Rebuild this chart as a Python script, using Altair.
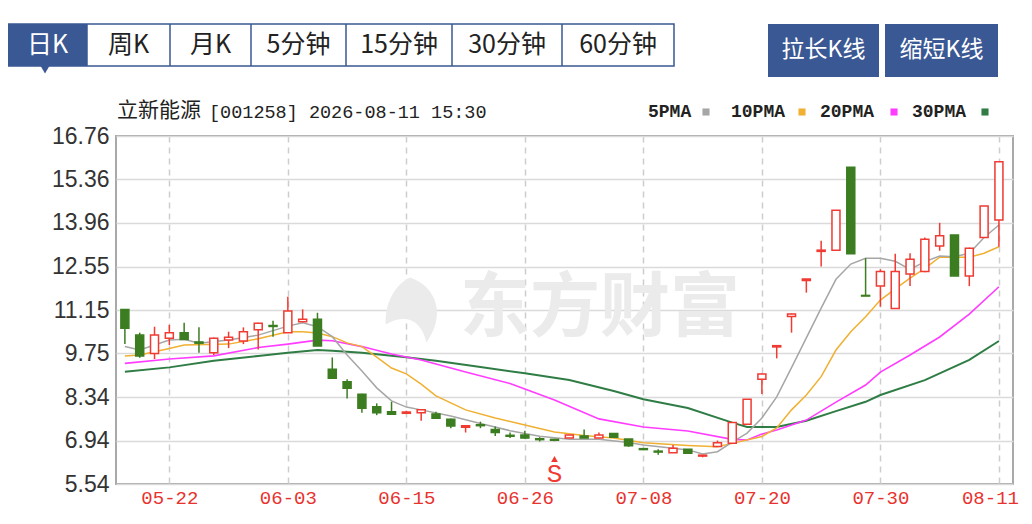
import altair as alt
import pandas as pd

# ---------------- data ----------------
dates = ['05-19', '05-20', '05-21', '05-22', '05-25', '05-26', '05-27', '05-28', '05-29',
         '06-01', '06-02', '06-03', '06-04', '06-05', '06-08', '06-09', '06-10', '06-11', '06-12',
         '06-15', '06-16', '06-17', '06-18', '06-22', '06-23', '06-24', '06-25', '06-26', '06-29', '06-30',
         '07-01', '07-02', '07-03', '07-06', '07-07', '07-08', '07-09', '07-10', '07-13', '07-14',
         '07-15', '07-16', '07-17', '07-20', '07-21', '07-22', '07-23', '07-24', '07-27', '07-28',
         '07-29', '07-30', '07-31', '08-03', '08-04', '08-05', '08-06', '08-07', '08-10', '08-11']

opens = [11.17, 10.34, 9.75, 10.24, 10.42, 10.12, 9.77, 10.18, 10.15, 10.51,
         10.65, 10.42, 10.77, 10.85, 9.24, 8.84, 8.43, 8.03, 7.87, 7.82,
         7.84, 7.80, 7.63, 7.37, 7.45, 7.30, 7.11, 7.12, 7.00, 6.98,
         7.02, 7.09, 7.02, 7.17, 6.99, 6.68, 6.60, 6.55, 6.66, 6.44,
         6.75, 6.85, 7.47, 8.92, 9.96, 10.94, 12.10, 13.04, 13.08, 15.75,
         11.62, 11.92, 11.20, 12.31, 12.39, 13.21, 13.57, 12.25, 13.49, 14.05]
highs = [11.17, 10.42, 10.61, 10.67, 10.74, 10.59, 10.26, 10.45, 10.59, 10.74,
         10.80, 11.58, 11.17, 11.06, 9.62, 8.92, 8.45, 8.14, 8.19, 7.90,
         7.95, 7.87, 7.65, 7.43, 7.55, 7.39, 7.20, 7.26, 7.05, 6.98,
         7.12, 7.30, 7.20, 7.17, 6.99, 6.70, 6.66, 6.80, 6.66, 6.47,
         6.94, 7.52, 8.27, 9.10, 10.00, 11.04, 12.15, 13.38, 14.37, 15.75,
         12.82, 12.46, 12.96, 12.98, 13.49, 13.96, 13.57, 13.16, 14.50, 15.93]
lows = [10.05, 9.61, 9.57, 10.02, 10.18, 9.77, 9.70, 9.92, 10.05, 9.88,
        10.29, 10.42, 10.77, 9.99, 8.95, 8.30, 7.84, 7.76, 7.79, 7.80,
        7.58, 7.64, 7.34, 7.20, 7.34, 7.09, 7.02, 7.00, 6.91, 6.92,
        7.02, 7.02, 7.02, 7.05, 6.74, 6.64, 6.48, 6.55, 6.53, 6.40,
        6.75, 6.85, 7.47, 8.44, 9.59, 10.42, 11.71, 12.55, 13.08, 12.96,
        11.60, 11.26, 11.20, 11.92, 12.37, 13.06, 12.25, 11.92, 13.49, 13.19]
closes = [10.56, 9.67, 10.34, 10.42, 10.20, 10.08, 10.24, 10.27, 10.45, 10.72,
          10.62, 11.12, 10.85, 9.99, 8.95, 8.63, 7.98, 7.84, 7.79, 7.86,
          7.93, 7.66, 7.41, 7.42, 7.42, 7.20, 7.08, 7.02, 6.97, 6.95,
          7.12, 7.02, 7.12, 7.05, 6.77, 6.65, 6.57, 6.69, 6.53, 6.47,
          6.87, 7.52, 8.27, 9.09, 10.00, 11.02, 12.15, 13.08, 14.37, 12.96,
          11.60, 12.39, 12.39, 12.79, 13.43, 13.54, 12.25, 13.14, 14.50, 15.93]

ma5_idx = [0, 1, 3, 4, 5, 7, 9, 11, 12, 13, 14, 15, 16, 17, 18, 19, 20, 22, 24, 26, 28, 30, 32,
           34, 35, 37, 38, 39, 40, 41, 42, 43, 44, 45, 46, 47, 48, 49, 50, 51, 52, 53, 54, 55,
           56, 57, 58, 59]
ma5_val = [9.97, 9.86, 10.18, 10.21, 10.08, 10.18, 10.34, 10.63, 10.74, 10.61, 10.29, 9.70, 9.18,
           8.64, 8.22, 8.02, 7.93, 7.73, 7.49, 7.26, 7.08, 6.98, 6.98, 6.88, 6.80, 6.69, 6.64,
           6.51, 6.58, 6.89, 7.18, 7.67, 8.35, 9.29, 10.25, 11.21, 12.14, 12.63, 12.82, 12.82,
           12.72, 12.46, 12.71, 12.89, 12.87, 12.98, 13.49, 13.89]

ma10_idx = [0, 1, 3, 4, 7, 9, 11, 12, 13, 14, 15, 16, 17, 18, 19, 20, 21, 23, 25, 27, 29, 31,
            33, 35, 38, 40, 41, 43, 44, 45, 46, 47, 48, 49, 50, 51, 52, 53, 54, 55, 56, 57, 58, 59]
ma10_val = [9.67, 9.70, 9.91, 10.02, 10.05, 10.22, 10.45, 10.45, 10.41, 10.29, 10.09, 9.97,
            9.63, 9.28, 9.09, 8.76, 8.38, 7.93, 7.67, 7.44, 7.22, 7.10, 7.02, 6.87, 6.78, 6.74,
            6.85, 7.07, 7.35, 7.93, 8.41, 9.00, 9.86, 10.45, 10.93, 11.47, 11.83, 12.18, 12.49,
            12.85, 12.85, 12.85, 12.98, 13.19]

ma20_idx = [0, 3, 6, 9, 11, 13, 14, 16, 18, 20, 23, 26, 29, 32, 35, 38, 41, 42, 43, 44, 46,
            48, 50, 51, 53, 55, 57, 59]
ma20_val = [9.43, 9.57, 9.67, 9.94, 10.05, 10.18, 10.16, 9.97, 9.73, 9.54, 9.15, 8.78, 8.25,
            7.64, 7.38, 7.25, 6.98, 6.96, 7.15, 7.28, 7.60, 8.18, 8.73, 9.15, 9.70, 10.28,
            11.02, 11.90]

ma30_idx = [0, 3, 6, 9, 11, 13, 14, 16, 19, 21, 24, 27, 30, 33, 35, 38, 41, 42, 44, 46, 48,
            50, 51, 54, 57, 59]
ma30_val = [9.16, 9.30, 9.51, 9.67, 9.77, 9.86, 9.84, 9.77, 9.63, 9.51, 9.31, 9.11, 8.89,
            8.54, 8.27, 7.99, 7.52, 7.38, 7.38, 7.58, 7.89, 8.19, 8.41, 8.89, 9.54, 10.15]

y_ticks = [5.54, 6.94, 8.34, 9.75, 11.15, 12.55, 13.96, 15.36, 16.76]
x_tick_idx = [3, 11, 19, 27, 35, 43, 51, 59]

signal_idx = [29]
signal_txt = ['S']

title_name = '立新能源'
title_rest = '[001258] 2026-08-11 15:30'
legend_names = ['5PMA', '10PMA', '20PMA', '30PMA']
tabs = ['日K', '周K', '月K', '5分钟', '15分钟', '30分钟', '60分钟']
buttons = ['拉长K线', '缩短K线']
watermark = '东方财富'

# ---------------- style / layout constants ----------------
RED = '#f03a32'
GREEN = '#3b7d20'
BLUE = '#3a5893'
MA_COLORS = ['#a6a6a6', '#f0b031', '#ff3cff', '#2f7d45']
OX, OY = 116, 136          # page position of plot origin
W, H = 897, 348

df = pd.DataFrame(dict(i=list(range(len(dates))), date=dates, open=opens, high=highs,
                       low=lows, close=closes))
df['up'] = df['close'] >= df['open']
up_df = df[df['up']]
dn_df = df[~df['up']]

lab_expr = '[' + ','.join("'%s'" % d for d in dates) + '][datum.value]'

xscale = alt.Scale(domain=[-0.6, 59.95], nice=False, zero=False, padding=0)
yscale = alt.Scale(domain=[5.54, 16.76], nice=False, zero=False, padding=0)
xaxis = alt.Axis(values=x_tick_idx, labelExpr=lab_expr, grid=True, gridDash=[6, 5],
                 gridColor='#cdcdcd', gridWidth=1.5, domain=False, ticks=False,
                 labelColor='#e8322e', labelFont='Liberation Mono', labelFontSize=19,
                 labelPadding=4, labelFlush=False, labelOverlap=False, title=None,
                 labelOffset={'condition': {'test': 'datum.value == 59', 'value': -9}, 'value': 0})
yaxis = alt.Axis(values=y_ticks, format='.2f', grid=True, gridColor='#dadada', gridWidth=1.5,
                 domain=False, ticks=False, labelFont='Liberation Sans', labelFontSize=23,
                 labelColor='#333333', labelPadding=7, title=None)


def X():
    return alt.X('i:Q', scale=xscale, axis=xaxis)


def Y(f):
    return alt.Y(f + ':Q', scale=yscale, axis=yaxis)


one = pd.DataFrame({'k': [0]})


def rect(x0, y0, x1, y1, fill, stroke=None, sw=0):
    kw = dict(fill=fill)
    if stroke:
        kw.update(stroke=stroke, strokeWidth=sw)
    return alt.Chart(one).mark_rect(**kw).encode(
        x=alt.value(x0 - OX), x2=alt.value(x1 - OX), y=alt.value(y0 - OY), y2=alt.value(y1 - OY))


def txt(x, y, s, size, color, font, align='center', weight='normal'):
    return alt.Chart(one).mark_text(text=s, fontSize=size, color=color, font=font, align=align,
                                    baseline='middle', fontWeight=weight).encode(
        x=alt.value(x - OX), y=alt.value(y - OY))


layers = []

# watermark
layers.append(alt.Chart(one).mark_point(
    shape='M -0.15 -1 C 0.7 -0.7 0.95 0.2 0.35 1 C 0.2 0.3 -0.3 0.1 -0.9 0.45 C -0.95 -0.2 -0.6 -0.8 -0.15 -1 Z',
    size=4200, filled=True, color='#ebebeb', opacity=1).encode(
    x=alt.value(415 - OX), y=alt.value(310 - OY)))
layers.append(txt(600, 310, watermark, 70, '#ebebeb', 'Noto Sans CJK SC', weight='bold'))

# moving averages
for idx, val, col, sw in [(ma30_idx, ma30_val, MA_COLORS[3], 2),
                          (ma20_idx, ma20_val, MA_COLORS[2], 1.6),
                          (ma10_idx, ma10_val, MA_COLORS[1], 1.5),
                          (ma5_idx, ma5_val, MA_COLORS[0], 1.5)]:
    mdf = pd.DataFrame({'i': idx, 'v': val})
    layers.append(alt.Chart(mdf).mark_line(color=col, strokeWidth=sw).encode(x=X(), y=Y('v')))

# candles
layers.append(alt.Chart(dn_df).mark_rule(color=GREEN, strokeWidth=1.5).encode(
    x=X(), y=Y('low'), y2='high'))
layers.append(alt.Chart(dn_df).mark_bar(size=8, fill=GREEN, stroke=GREEN, strokeWidth=1.5).encode(
    x=X(), y=Y('open'), y2='close'))
layers.append(alt.Chart(up_df).mark_rule(color=RED, strokeWidth=1.5).encode(
    x=X(), y=Y('low'), y2='high'))
layers.append(alt.Chart(up_df).mark_bar(size=8, fill='white', stroke=RED, strokeWidth=1.5).encode(
    x=X(), y=Y('open'), y2='close'))

# signal marker
sig = pd.DataFrame({'i': signal_idx, 's': signal_txt})
layers.append(alt.Chart(sig).mark_point(shape='triangle-up', filled=True, size=45, color=RED,
                                        opacity=1).encode(x=X(), y=alt.value(459 - OY)))
layers.append(alt.Chart(sig).mark_text(fontSize=26, color=RED, font='Liberation Mono',
                                       baseline='middle').encode(
    x=X(), y=alt.value(474 - OY), text='s:N'))

# title + legend
layers.append(txt(117, 111, title_name, 21, '#222222', 'Noto Sans CJK SC', align='left'))
layers.append(txt(209, 112, title_rest, 18.5, '#222222', 'Liberation Mono', align='left'))
leg_x = [648, 731, 820, 912]
sq_x = [706, 802, 894, 985]
for name, lx, sx, col in zip(legend_names, leg_x, sq_x, MA_COLORS):
    layers.append(txt(lx, 112, name, 18, '#222222', 'Liberation Mono', align='left', weight='bold'))
    layers.append(alt.Chart(one).mark_square(size=50, color=col, opacity=1).encode(
        x=alt.value(sx - OX), y=alt.value(112 - OY)))

# toolbar tabs
tab_edges = [8, 87, 170, 251, 346, 452, 562, 674]
layers.append(rect(8, 24, 674, 66, 'white', BLUE, 1.5))
layers.append(rect(8, 24, 87, 66, BLUE))
layers.append(alt.Chart(one).mark_point(shape='triangle-down', filled=True, size=110, color=BLUE,
                                        opacity=1).encode(x=alt.value(45 - OX), y=alt.value(69 - OY)))
for k in range(1, len(tab_edges) - 1):
    layers.append(rect(tab_edges[k] - 0.75, 24, tab_edges[k] + 0.75, 66, BLUE))
for k, t in enumerate(tabs):
    cx = (tab_edges[k] + tab_edges[k + 1]) / 2
    layers.append(txt(cx, 45, t, 25, 'white' if k == 0 else '#222222', 'Noto Sans CJK SC'))

# buttons
for (x0, x1), b in zip([(768, 879), (885, 998)], buttons):
    layers.append(rect(x0, 24, x1, 77, BLUE))
    layers.append(txt((x0 + x1) / 2, 50, b, 23, 'white', 'Noto Sans CJK SC'))

chart = alt.layer(*layers).properties(
    width=W, height=H,
    padding={'left': OX - 8, 'top': OY - 8, 'right': 8, 'bottom': 29},
    autosize=alt.AutoSizeParams(type='none'),
).configure_view(stroke='#a9a9a9', strokeWidth=2)

chart.save("out.html", embed_options={"renderer": "svg", "actions": False})
